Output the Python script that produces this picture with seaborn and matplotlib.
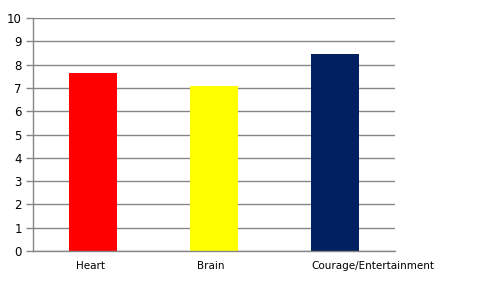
import matplotlib
matplotlib.use("Agg")
import matplotlib.pyplot as plt
import matplotlib.transforms as mtransforms
import seaborn as sns
import pandas as pd

categories = ["Heart", "Brain", "Courage/Entertainment"]
values = [7.65, 7.08, 8.45]
colors = ["#FF0000", "#FFFF00", "#002060"]
yticks = list(range(0, 11))

sns.set_theme(style="white")
plt.rcParams['font.family'] = ['DejaVu Sans']

df = pd.DataFrame({"cat": categories, "val": values})

fig = plt.figure(figsize=(4.8, 2.91), dpi=100)
ax = fig.add_axes([33/480, 40/291, (395-33)/480, (251-18)/291])

sns.barplot(data=df, x="cat", y="val", hue="cat", palette=colors, width=0.4,
            legend=False, ax=ax, saturation=1, linewidth=0, edgecolor="none")

ax.set_xlim(-0.5, 2.5)
ax.set_ylim(0, 10)
ax.set_yticks(yticks)
ax.set_xlabel("")
ax.set_ylabel("")
ax.yaxis.grid(True, color="#868686", linewidth=1)
ax.set_axisbelow(True)
for s in ["top", "right"]:
    ax.spines[s].set_visible(False)
for s in ["left", "bottom"]:
    ax.spines[s].set_color("#868686")
    ax.spines[s].set_linewidth(1)

ax.set_xticks([-0.5, 0.5, 1.5, 2.5], minor=True)
ax.tick_params(axis="x", which="minor", length=5, color="#868686", width=1, direction="out")
ax.tick_params(axis="x", which="major", length=0, pad=7, labelsize=7.5, colors="black")
ax.tick_params(axis="y", which="major", length=5, color="#868686", width=1, direction="out",
               labelsize=8.5, colors="black", left=True, pad=3)

labels = ax.get_xticklabels()
offset = mtransforms.ScaledTranslation(38/100, 0, fig.dpi_scale_trans)
labels[2].set_transform(labels[2].get_transform() + offset)
for lab in labels[:2]:
    lab.set_transform(lab.get_transform() + mtransforms.ScaledTranslation(-3/100, 0, fig.dpi_scale_trans))

fig.savefig("out.png", dpi=100)
